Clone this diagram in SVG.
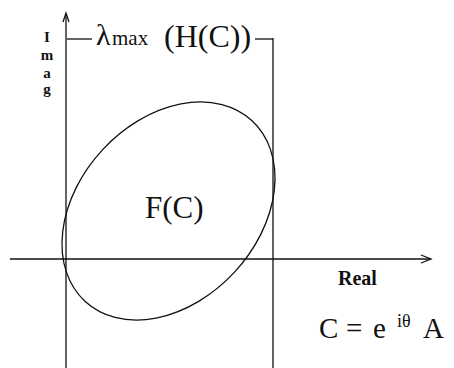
<svg xmlns="http://www.w3.org/2000/svg" width="454" height="368" viewBox="0 0 454 368">
<style>
.ln{stroke:#111;stroke-width:1.3;fill:none}
.t{font-family:"Liberation Serif",serif;fill:#111}
.v{font-size:15px;font-weight:bold;text-anchor:middle}
</style>
<rect width="454" height="368" fill="#fff"/>
<g id="connectors">
<line class="ln" x1="66" y1="14" x2="66" y2="368"/>
<polyline class="ln" points="63,22 66,13 69,22"/>
<line class="ln" x1="273" y1="38" x2="273" y2="368"/>
<line class="ln" x1="10" y1="259" x2="431" y2="259"/>
<polyline class="ln" points="421,255 431,259 421,263"/>
<line class="ln" x1="67" y1="39" x2="92" y2="39"/>
<line class="ln" x1="255" y1="39" x2="273" y2="39"/>
</g>
<g id="ellipse">
<ellipse class="ln" cx="168.5" cy="211" rx="123" ry="90" transform="rotate(-47.2 168.5 211)"/>
</g>
<g id="labels">
<text class="t v" x="47" y="42">I</text>
<text class="t v" x="47" y="60">m</text>
<text class="t v" x="47" y="78">a</text>
<text class="t v" x="47" y="94">g</text>
<text class="t" x="96" y="45" font-size="30">λ</text>
<text class="t" x="112" y="45" font-size="21">max</text>
<text class="t" x="164" y="47" font-size="32">(H(C))</text>
<text class="t" x="145" y="218" font-size="31">F(C)</text>
<text class="t" x="338" y="285" font-size="20" font-weight="bold">Real</text>
<text class="t" x="319" y="338" font-size="29">C</text>
<text class="t" x="346" y="338" font-size="29">=</text>
<text class="t" x="373" y="338" font-size="29">e</text>
<text class="t" x="397" y="327" font-size="18">iθ</text>
<text class="t" x="423" y="338" font-size="29">A</text>
</g>
</svg>
